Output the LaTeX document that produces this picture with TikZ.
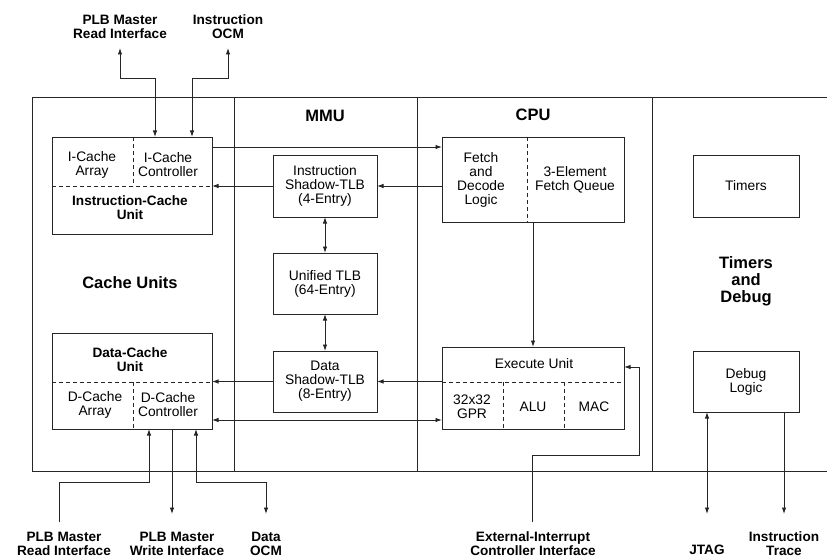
\documentclass[tikz,border=0pt]{standalone}
\usepackage{fontspec}
\setmainfont{Liberation Sans}
\usetikzlibrary{arrows.meta}
\begin{document}
\begin{tikzpicture}[x=1pt,y=-1pt, line width=0.9pt,
  box/.style={draw=black!85, rectangle, inner sep=0pt, outer sep=0pt, line width=0.9pt},
  lbl/.style={font=\fontsize{13.8}{14}\selectfont, align=center, inner sep=0pt},
  blbl/.style={font=\bfseries\fontsize{13.6}{14}\selectfont, align=center, inner sep=0pt},
  sec/.style={font=\bfseries\fontsize{16.5}{17}\selectfont, align=center, inner sep=0pt},
  ln/.style={draw=black!85, line width=0.9pt},
  arr/.style={ln, -{Latex[length=6.5pt,width=4.5pt]}},
  dbl/.style={ln, {Latex[length=6.5pt,width=4.5pt]}-{Latex[length=6.5pt,width=4.5pt]}},
  dsh/.style={draw=black!85, dash pattern=on 4pt off 3pt, line width=0.8pt}]
\useasboundingbox (0,0) rectangle (827,559);

% frame and region dividers
\draw[ln] (827,97) -- (32,97) -- (32,471) -- (827,471);
\draw[ln] (234,97) -- (234,471);
\draw[ln] (417,97) -- (417,471);
\draw[ln] (652,97) -- (652,471);

% section labels
\node[sec] (mmu) at (325,116) {MMU};
\node[sec] (cpu) at (533,115) {CPU};
\node[sec] (cu) at (130,283) {Cache Units};
\node[sec] (td) at (746,281) {Timers\\and\\Debug};

% boxes
\node[box, minimum width=160pt, minimum height=97pt] (ic) at (132,185.5) {};
\node[box, minimum width=160pt, minimum height=96pt] (dc) at (132,381) {};
\node[box, minimum width=104pt, minimum height=62pt] (itlb) at (325,186) {};
\node[box, minimum width=104pt, minimum height=61pt] (utlb) at (325,283.5) {};
\node[box, minimum width=104pt, minimum height=61pt] (dtlb) at (325,381.5) {};
\node[box, minimum width=182pt, minimum height=85pt] (fd) at (533,179.5) {};
\node[box, minimum width=182pt, minimum height=82pt] (ex) at (533,388) {};
\node[box, minimum width=106pt, minimum height=62pt] (tm) at (746,186) {};
\node[box, minimum width=106pt, minimum height=61pt] (dbg) at (746,381.5) {};

% dashed partitions
\draw[dsh] (ic.west |- 0,186) -- (ic.east |- 0,186);
\draw[dsh] (ic.north -| 133,0) -- (133,186);
\draw[dsh] (dc.west |- 0,382) -- (dc.east |- 0,382);
\draw[dsh] (133,382) -- (dc.south -| 133,0);
\draw[dsh] (fd.north -| 527,0) -- (fd.south -| 527,0);
\draw[dsh] (ex.west |- 0,382) -- (ex.east |- 0,382);
\draw[dsh] (503,382) -- (ex.south -| 503,0);
\draw[dsh] (564,382) -- (ex.south -| 564,0);

% box texts
\node[lbl] (ica) at (92,165) {I-Cache\\Array};
\node[lbl] (icc) at (168,165) {I-Cache\\Controller};
\node[blbl] (icu) at (130,207.5) {Instruction-Cache\\Unit};
\node[blbl] (dcu) at (130,360) {Data-Cache\\Unit};
\node[lbl] (dca) at (95,404.5) {D-Cache\\Array};
\node[lbl] (dcc) at (168,404.5) {D-Cache\\Controller};
\node[lbl] at (itlb.center) {Instruction\\Shadow-TLB\\(4-Entry)};
\node[lbl] at (utlb.center) {Unified TLB\\(64-Entry)};
\node[lbl] at (dtlb.center) {Data\\Shadow-TLB\\(8-Entry)};
\node[lbl] (fdl) at (481,179.5) {Fetch\\and\\Decode\\Logic};
\node[lbl] (fq) at (575,180) {3-Element\\Fetch Queue};
\node[lbl] (exu) at (534,364) {Execute Unit};
\node[lbl] (gpr) at (472,406.5) {32x32\\GPR};
\node[lbl] (alu) at (533,407) {ALU};
\node[lbl] (mac) at (594,407) {MAC};
\node[lbl] at (tm.center) {Timers};
\node[lbl] at (dbg.center) {Debug\\Logic};

% external labels
\node[blbl] (plbr) at (120,27) {PLB Master\\Read Interface};
\node[blbl] (iocm) at (228,27) {Instruction\\OCM};
\node[blbl] (plbr2) at (64,543.5) {PLB Master\\Read Interface};
\node[blbl] (plbw) at (177,543.5) {PLB Master\\Write Interface};
\node[blbl] (docm) at (266,543.5) {Data\\OCM};
\node[blbl] (eint) at (533,543.5) {External-Interrupt\\Controller Interface};
\node[blbl] (jtag) at (707,550) {JTAG};
\node[blbl] (itr) at (784,543.5) {Instruction\\Trace};

% free ends of connectors
\coordinate (tplbr) at (120,48);
\coordinate (tiocm) at (228,48);
\coordinate (tplbr2) at (59,522);
\coordinate (tplbw) at (172,514);
\coordinate (tdocm) at (266,514);
\coordinate (teint) at (532,522);
\coordinate (tjtag) at (707,514);
\coordinate (titr) at (784,514);

% connectors
\draw[dbl] (tplbr) |- (155,78) -- (ic.north -| 155,0);
\draw[dbl] (tiocm) |- (192,78) -- (ic.north -| 192,0);
\draw[arr] (ic.east |- 0,147) -- (fd.west |- 0,147);
\draw[arr] (itlb.west) -- (ic.east |- itlb.west);
\draw[arr] (fd.west |- itlb.east) -- (itlb.east);
\draw[dbl] (itlb.south) -- (utlb.north);
\draw[dbl] (utlb.south) -- (dtlb.north);
\draw[arr] (dtlb.west) -- (dc.east |- dtlb.west);
\draw[arr] (ex.west |- dtlb.east) -- (dtlb.east);
\draw[dbl] (dc.east |- 0,420) -- (ex.west |- 0,420);
\draw[arr] (fd.south) -- (ex.north);
\draw[arr] (teint) |- (639,455) |- (ex.east |- 0,367);
\draw[arr] (tplbr2) |- (149,482) -- (dc.south -| 149,0);
\draw[arr] (dc.south -| tplbw) -- (tplbw);
\draw[dbl] (dc.south -| 196,0) |- (tdocm |- 0,482) -- (tdocm);
\draw[dbl] (dbg.south -| tjtag) -- (tjtag);
\draw[arr] (dbg.south -| titr) -- (titr);
\end{tikzpicture}
\end{document}
